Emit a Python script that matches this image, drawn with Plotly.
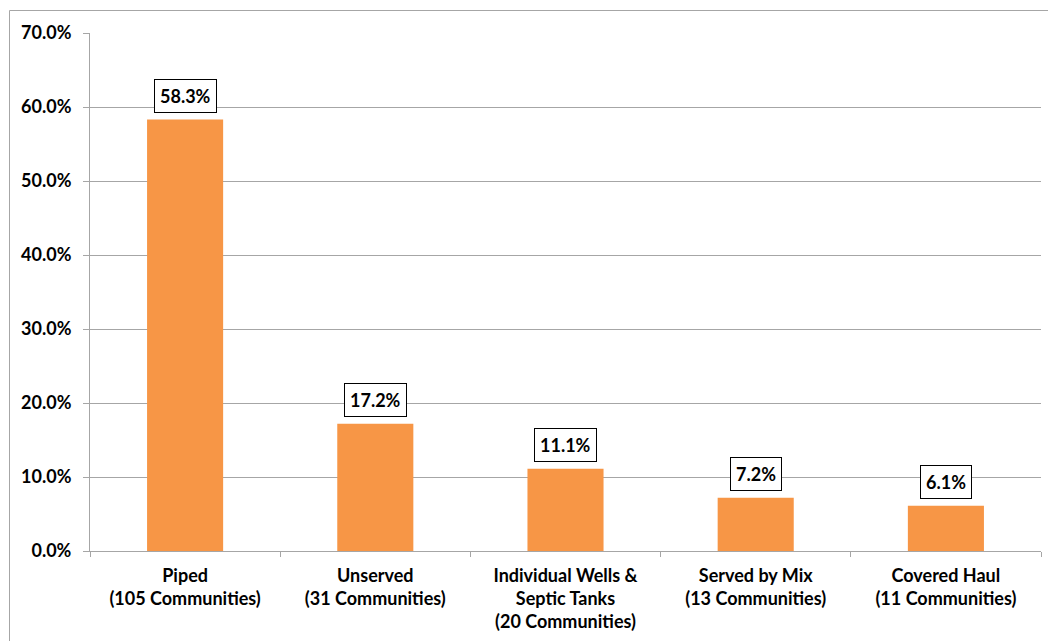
import plotly.graph_objects as go

categories = [
    "Piped<br>(105 Communities)",
    "Unserved<br>(31 Communities)",
    "Individual Wells &amp;<br>Septic Tanks<br>(20 Communities)",
    "Served by Mix<br>(13 Communities)",
    "Covered Haul<br>(11 Communities)",
]
values = [0.583, 0.172, 0.111, 0.072, 0.061]
value_labels = ["58.3%", "17.2%", "11.1%", "7.2%", "6.1%"]

FONT = "Lato"
FS = 18
W, H = 1048, 641
L, R, T, B = 90, 7, 33, 90
pw, ph = W - L - R, H - T - B

def px_x(p):
    return (p - L) / pw

def px_y(p):
    return (H - B - p) / ph

fig = go.Figure()
fig.add_trace(go.Bar(
    x=categories, y=values,
    marker=dict(color="#F79646", line=dict(width=0)),
    hoverinfo="skip",
))

annotations = []
for c, v, t in zip(categories, values, value_labels):
    annotations.append(dict(
        x=c, y=v, xref="x", yref="y", text="<b>%s</b>" % t,
        showarrow=False, yanchor="bottom", yshift=7,
        font=dict(family=FONT, size=FS, color="black"),
        bgcolor="white", bordercolor="black", borderwidth=1, borderpad=5,
    ))

fig.update_layout(
    width=W, height=H,
    margin=dict(l=L, r=R, t=T, b=B),
    paper_bgcolor="white", plot_bgcolor="white",
    bargap=0.6,
    showlegend=False,
    font=dict(family=FONT, size=FS, color="black"),
    annotations=annotations,
    shapes=[dict(
        type="rect", xref="paper", yref="paper",
        x0=px_x(9.5), x1=px_x(1060), y0=px_y(10.5), y1=px_y(660),
        line=dict(color="#a6a6a6", width=1), fillcolor="rgba(0,0,0,0)",
        layer="below",
    )],
)

fig.update_yaxes(
    range=[0, 0.7], dtick=0.1, tickformat=".1%",
    showgrid=True, gridcolor="#a6a6a6", gridwidth=1,
    showline=True, linecolor="#a6a6a6", linewidth=1,
    ticks="outside", ticklen=6, tickcolor="#a6a6a6",
    tickfont=dict(family=FONT, size=FS, color="black", weight="bold"),
    ticklabelstandoff=8,
    zeroline=False,
)
fig.update_xaxes(
    showline=True, linecolor="#a6a6a6", linewidth=1,
    ticks="outside", ticklen=5, tickcolor="#a6a6a6", tickson="boundaries",
    tickfont=dict(family=FONT, size=FS, color="black", weight="bold"),
    ticklabelstandoff=8,
)

fig.write_html("out.html")
